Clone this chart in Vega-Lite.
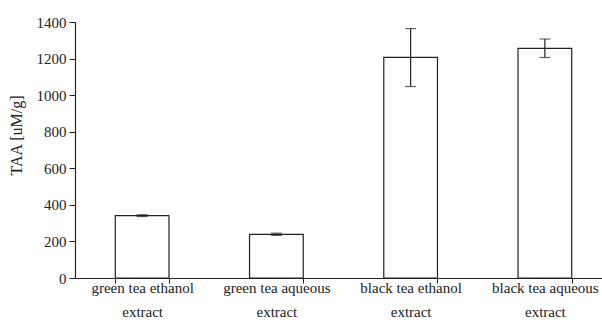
{
  "$schema": "https://vega.github.io/schema/vega-lite/v6.json",
  "autosize": {"type": "none"},
  "padding": {"left": 75, "top": 22, "right": 0, "bottom": 47},
  "width": 527,
  "height": 256,
  "background": "white",
  "config": {
    "view": {"stroke": null},
    "font": "Liberation Serif",
    "axis": {"labelFont": "Liberation Serif", "titleFont": "Liberation Serif", "labelColor": "#222", "titleColor": "#222", "domainColor": "#222", "tickColor": "#222", "grid": false}
  },
  "data": {
    "values": [
      {"extract": "green tea ethanol|extract", "TAA": 341, "low": 336, "high": 346},
      {"extract": "green tea aqueous|extract", "TAA": 239, "low": 233, "high": 245},
      {"extract": "black tea ethanol|extract", "TAA": 1207, "low": 1047, "high": 1364},
      {"extract": "black tea aqueous|extract", "TAA": 1256, "low": 1206, "high": 1307}
    ]
  },
  "encoding": {
    "x": {
      "field": "extract", "type": "nominal", "sort": null,
      "scale": {"paddingInner": 0.6, "paddingOuter": 0.3, "range": [0, 537]},
      "axis": {
        "title": null, "labelAngle": 0, "labelFontSize": 15, "labelPadding": -3,
        "labelExpr": "split(datum.label, '|')", "labelLineHeight": 24,
        "tickBand": "extent", "tickSize": 5, "domainWidth": 1.2
      }
    },
    "y": {
      "field": "TAA", "type": "quantitative",
      "scale": {"domain": [0, 1400], "nice": false},
      "axis": {"title": "TAA [uM/g]", "values": [0, 200, 400, 600, 800, 1000, 1200, 1400], "labelOverlap": false, "labelFontSize": 15, "titleFontSize": 16, "titleFontWeight": "normal", "tickSize": 6, "labelPadding": 3, "titleX": -59, "titleY": 113, "titleAngle": -90, "titleAlign": "center", "titleBaseline": "middle", "domainWidth": 1.2, "labelExpr": "format(datum.value, 'd')"}
    }
  },
  "layer": [
    {
      "mark": {"type": "bar", "fill": "white", "stroke": "#222", "strokeWidth": 1.2}
    },
    {
      "mark": {"type": "rule", "color": "#222", "strokeWidth": 1.2},
      "encoding": {"y": {"field": "low", "type": "quantitative"}, "y2": {"field": "high"}}
    },
    {
      "mark": {"type": "tick", "color": "#222", "size": 11, "thickness": 1.2},
      "encoding": {"y": {"field": "low", "type": "quantitative"}}
    },
    {
      "mark": {"type": "tick", "color": "#222", "size": 11, "thickness": 1.2},
      "encoding": {"y": {"field": "high", "type": "quantitative"}}
    }
  ]
}
